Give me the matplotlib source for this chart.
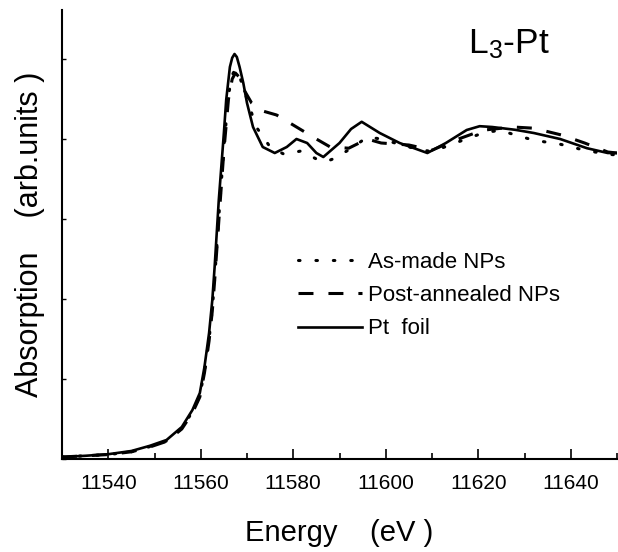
import matplotlib
matplotlib.use("Agg")
import matplotlib.pyplot as plt
from matplotlib.ticker import MultipleLocator, NullFormatter

plt.rcParams['font.family'] = ['Liberation Sans', 'DejaVu Sans']
plt.rcParams['mathtext.fontset'] = 'custom'
plt.rcParams['mathtext.rm'] = 'Liberation Sans'
plt.rcParams['mathtext.it'] = 'Liberation Sans:italic'

# Energy (eV) and normalized absorption
foil_e = [11530, 11535, 11540, 11545, 11549, 11552.6, 11555.9, 11558.2, 11559.8,
          11560.8, 11561.8, 11562.5, 11563, 11563.9, 11565, 11565.5, 11566.3,
          11566.8, 11567.3, 11567.8, 11568.4, 11569.2, 11570, 11571.3, 11573.4,
          11576, 11578.6, 11580.7, 11583, 11585, 11586.5, 11590, 11592.5, 11594.8,
          11598.7, 11603, 11609, 11613, 11617.5, 11620.3, 11623, 11628, 11632,
          11637.7, 11643.5, 11648, 11650]
foil_mu = [0.005, 0.008, 0.012, 0.02, 0.033, 0.0475, 0.08, 0.1225, 0.165,
           0.23, 0.315, 0.3975, 0.48, 0.6475, 0.815, 0.8975, 0.98,
           1.003, 1.0125, 1.005, 0.98, 0.94, 0.89, 0.83, 0.78,
           0.765, 0.78, 0.80, 0.79, 0.765, 0.755, 0.79, 0.825, 0.843,
           0.815, 0.79, 0.765, 0.79, 0.8225, 0.832, 0.83, 0.823, 0.815,
           0.80, 0.777, 0.765, 0.765]

post_e = [11530, 11535, 11540, 11545, 11549, 11552.6, 11555.9, 11558.2, 11559.8,
          11560.8, 11561.8, 11562.5, 11563, 11564, 11565, 11566, 11566.8, 11567.5,
          11568.3, 11569.5, 11571, 11573.4, 11576.4, 11580.7, 11585, 11588, 11592,
          11596, 11599, 11605, 11610, 11615, 11621, 11627.5, 11632, 11638, 11643,
          11648, 11650]
post_mu = [0.005, 0.008, 0.011, 0.018, 0.03, 0.044, 0.075, 0.115, 0.155,
           0.215, 0.295, 0.37, 0.445, 0.61, 0.77, 0.9, 0.95, 0.965,
           0.955, 0.92, 0.89, 0.87, 0.86, 0.83, 0.80, 0.78, 0.777,
           0.80, 0.79, 0.785, 0.772, 0.797, 0.822, 0.83, 0.827, 0.81, 0.79,
           0.7675, 0.765]

asmade_e = [11530, 11535, 11540, 11545, 11549, 11552.6, 11555.9, 11558.2, 11559.8,
            11560.8, 11561.8, 11562.5, 11563, 11564, 11565, 11566, 11566.8,
            11567.5, 11568.3, 11569, 11570, 11572, 11575, 11578, 11581.7, 11585,
            11587, 11589, 11593, 11596, 11599, 11605, 11610, 11615, 11621,
            11624.7, 11628, 11632, 11637.7, 11643, 11648, 11650]
asmade_mu = [0.005, 0.008, 0.011, 0.018, 0.031, 0.045, 0.077, 0.118, 0.158,
             0.22, 0.3, 0.375, 0.45, 0.62, 0.78, 0.91, 0.96,
             0.975, 0.96, 0.935, 0.9, 0.83, 0.78, 0.762, 0.77, 0.75,
             0.743, 0.752, 0.78, 0.805, 0.80, 0.78, 0.768, 0.79, 0.815,
             0.822, 0.81, 0.797, 0.787, 0.772, 0.762, 0.76]

labels = ["As-made NPs", "Post-annealed NPs", "Pt  foil"]

fig = plt.figure(figsize=(6.18, 5.52), dpi=100)
ax = fig.add_axes([62/618, 1-459/552, (617-62)/618, (459-10)/552])

ax.plot(asmade_e, asmade_mu, color='black', lw=2.2, linestyle=(0, (0.5, 5.2)),
        dash_capstyle='round', label=labels[0])
ax.plot(post_e, post_mu, color='black', lw=2.2, linestyle=(0, (4.9, 4.9)),
        label=labels[1])
ax.plot(foil_e, foil_mu, color='black', lw=1.9, linestyle='-', label=labels[2])

ax.set_xlim(11530, 11650)
ax.set_ylim(0, (459-10)/400)
ax.xaxis.set_major_locator(MultipleLocator(20))
ax.xaxis.set_minor_locator(MultipleLocator(10))
ax.yaxis.set_major_locator(MultipleLocator(0.2))
ax.yaxis.set_major_formatter(NullFormatter())
ax.tick_params(axis='x', which='major', direction='in', length=7, width=1.2,
               labelsize=15, pad=10.5)
ax.tick_params(axis='x', which='minor', direction='in', length=4, width=1.2)
ax.tick_params(axis='y', which='major', direction='in', length=3, width=1.0)
for s in ['top', 'right']:
    ax.spines[s].set_visible(False)
for s in ['left', 'bottom']:
    ax.spines[s].set_linewidth(1.5)

ax.set_xlabel("Energy    (eV )", fontsize=21, labelpad=19)
ax.set_ylabel("Absorption    (arb.units )", fontsize=22, labelpad=9)

ax.text(0.806, 0.925, "L$_3$-Pt", transform=ax.transAxes, fontsize=25.5,
        ha='center', va='center')

leg = ax.legend(loc='upper left', bbox_to_anchor=(278/618, 1-232/552),
                bbox_transform=fig.transFigure, frameon=False, fontsize=16,
                handlelength=2.9, handletextpad=0.27, labelspacing=0.55)

fig.savefig("out.png", dpi=100)
